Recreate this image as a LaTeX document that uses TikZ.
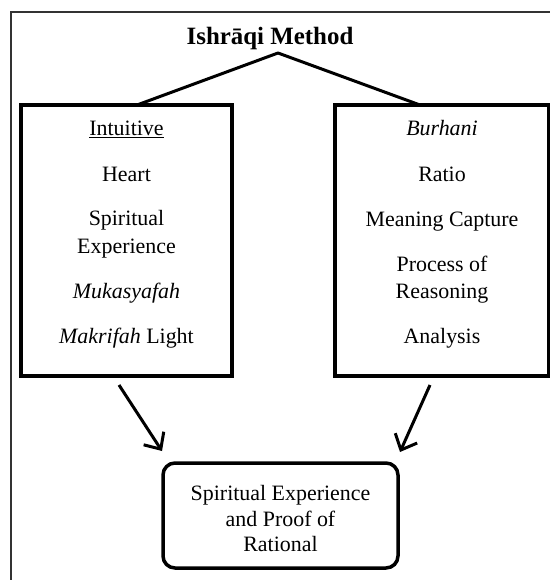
\documentclass[tikz,border=0pt]{standalone}
\usepackage{fontspec}
\setmainfont{Liberation Serif}
\usetikzlibrary{arrows.meta,calc}
\begin{document}
\begin{tikzpicture}[x=1bp,y=-1bp,
  item/.style={font=\fontsize{22}{26}\selectfont, inner sep=0pt, anchor=base},
  heading/.style={font=\fontsize{25}{30}\selectfont\bfseries, inner sep=0pt, anchor=base},
  box/.style={draw, line width=3.5bp, outer sep=0pt, inner sep=0pt, anchor=north west},
  link/.style={line width=3bp, line join=round},
  arr/.style={line width=3bp, -{Straight Barb[length=13bp,width=24bp]}},
  frame/.style={line width=1.3bp, black!80}]
\useasboundingbox (0,0) rectangle (550,580);

% outer frame
\draw[frame] (11,580) -- (11,12) -- (550,12);

% title
\node[heading] (title) at (270,45) {Ishrāqi Method};
\coordinate (apex) at (278,53);

% the two method boxes
\node[box, minimum width=211bp, minimum height=271bp] (lbox) at (21,105) {};
\node[box, minimum width=214bp, minimum height=271bp] (rbox) at (335,105) {};

% result box
\node[box, rounded corners=12bp, minimum width=235bp, minimum height=105bp] (bbox) at (163,463) {};

% branches from the title
\draw[link] ([xshift=116bp]lbox.north west) -- (apex) -- ([xshift=85bp]rbox.north west);

% left column
\node[item] (l1) at (126.5,136) {\underline{Intuitive}};
\node[item] (l2) at (126.5,181) {Heart};
\node[item] (l3a) at (126.5,225) {Spiritual};
\node[item] (l3b) at (126.5,253) {Experience};
\node[item] (l4) at (126.5,298) {\itshape Mukasyafah};
\node[item] (l5) at (126.5,343) {\textit{Makrifah} Light};

% right column
\node[item] (r1) at (442,136) {\itshape Burhani};
\node[item] (r2) at (442,181) {Ratio};
\node[item] (r3) at (442,226) {Meaning Capture};
\node[item] (r4a) at (442,271) {Process of};
\node[item] (r4b) at (442,298) {Reasoning};
\node[item] (r5) at (442,343) {Analysis};

% result text
\node[item] (b1) at (280.5,500) {Spiritual Experience};
\node[item] (b2) at (280.5,526) {and Proof of};
\node[item] (b3) at (280.5,551) {Rational};

% arrows into the result
\draw[arr] ([shift={(-7.5,9)}]lbox.south) -- ([shift={(-1,-12)}]bbox.north west);
\draw[arr] ([shift={(-12,9)}]rbox.south) -- ([shift={(2,-11)}]bbox.north east);
\end{tikzpicture}
\end{document}
